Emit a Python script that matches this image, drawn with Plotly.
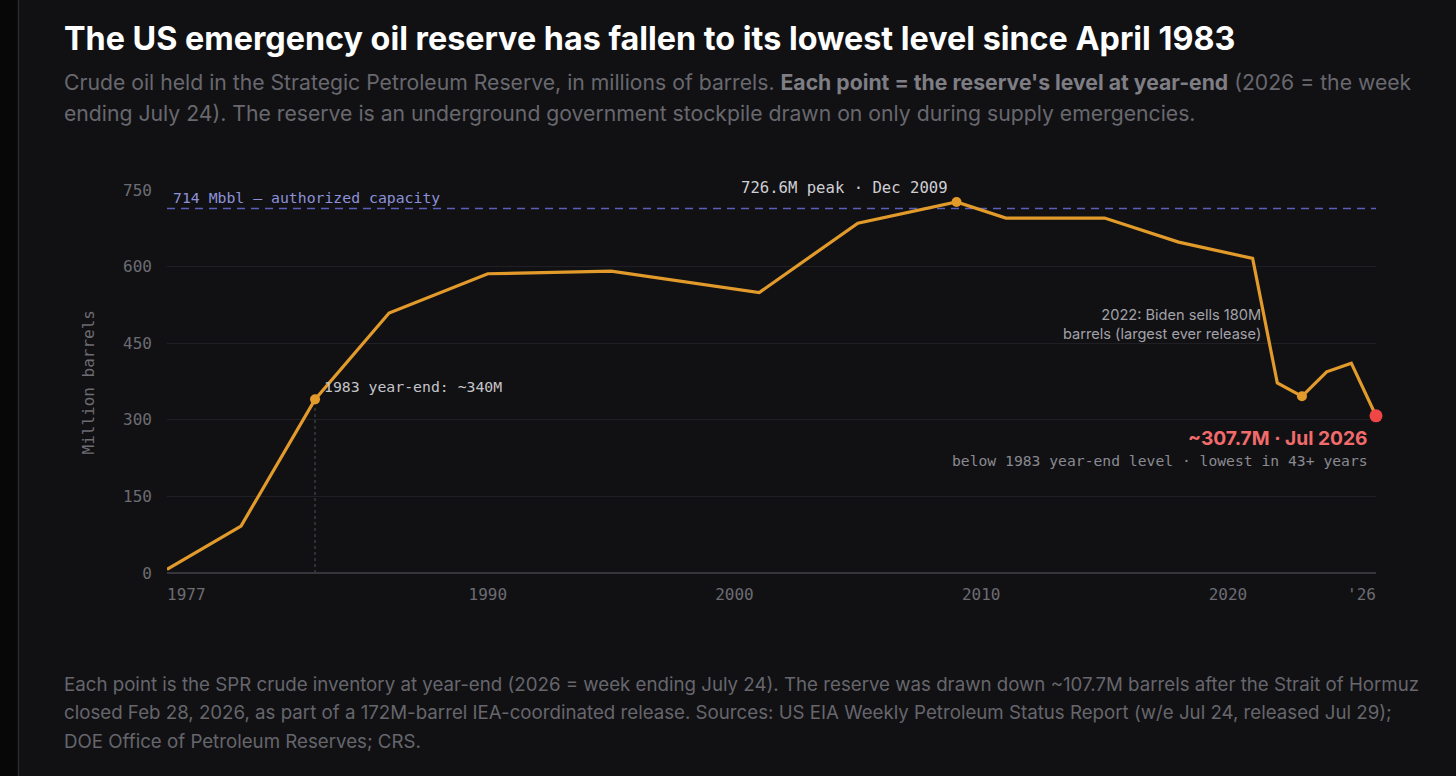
import plotly.graph_objects as go

bg = '#111114'
orange = '#e29b2b'
red = '#ef4646'
mono = 'DejaVu Sans Mono'
sans = 'Inter'

# year-end SPR level, million barrels (2026 = week ending Jul 24)
years = [1977, 1980, 1983, 1986, 1990, 1995, 2001, 2005, 2009, 2011, 2015, 2018, 2021, 2022, 2023, 2024, 2025, 2026]
barrels = [7, 92, 340, 509, 586, 591, 549, 685, 726.6, 695, 695, 648, 616, 372, 346, 394, 411, 307.7]
marked_years = [1983, 2009, 2023]
capacity = 714

y_ticks = [0, 150, 300, 450, 600, 750]
x_ticks = [1990, 2000, 2010, 2020]
x_edge_ticks = [1977, 2026]
x_edge_labels = ['1977', "'26"]

# plot area in pixels, used to place page-level text
L, R, T, B = 167, 1376, 190, 573
def px(x):
    return (x - L) / (R - L)
def py(y):
    return (B - y) / (B - T)

fig = go.Figure()

fig.add_trace(go.Scatter(x=years, y=barrels, mode='lines',
                         line=dict(color=orange, width=3.2), hoverinfo='skip'))
mark_vals = [barrels[years.index(y)] for y in marked_years]
fig.add_trace(go.Scatter(x=marked_years, y=mark_vals, mode='markers',
                         marker=dict(color=orange, size=10), hoverinfo='skip'))
fig.add_trace(go.Scatter(x=[years[-1]], y=[barrels[-1]], mode='markers',
                         marker=dict(color=red, size=13), hoverinfo='skip', cliponaxis=False))

# capacity line + 1983 drop line
fig.add_shape(type='line', x0=years[0], x1=years[-1], y0=capacity, y1=capacity,
              line=dict(color='#5a60b8', width=1.5, dash='8px,6px'), layer='below')
fig.add_shape(type='line', x0=1983, x1=1983, y0=0, y1=barrels[years.index(1983)],
              line=dict(color='#505056', width=1, dash='3px,3px'), layer='below')

# left strip of the page
fig.add_shape(type='rect', xref='paper', yref='paper', x0=px(0), x1=px(18), y0=py(776), y1=py(0),
              fillcolor='#070708', line=dict(width=0), layer='below')
fig.add_shape(type='line', xref='paper', yref='paper', x0=px(18.5), x1=px(18.5), y0=py(776), y1=py(0),
              line=dict(color='#2a2a2e', width=1.5), layer='below')

ann = []
def note(text, x, y, size, color, family=mono, xanchor='left', **kw):
    ann.append(dict(text=text, x=x, y=y, showarrow=False, xanchor=xanchor, yanchor='middle',
                    font=dict(family=family, size=size, color=color), **kw))

# page texts
note('<b>The US emergency oil reserve has fallen to its lowest level since April 1983</b>',
     px(62), py(38), 32.3, '#ffffff', family=sans, xref='paper', yref='paper')
note("Crude oil held in the Strategic Petroleum Reserve, in millions of barrels. "
     "<b><span style='color:#7e7e84'>Each point = the reserve's level at year-end</span></b> (2026 = the week",
     px(62), py(82), 21.2, '#68686e', family=sans, xref='paper', yref='paper')
note('ending July 24). The reserve is an underground government stockpile drawn on only during supply emergencies.',
     px(62), py(113), 21.2, '#68686e', family=sans, xref='paper', yref='paper')
footer = ['Each point is the SPR crude inventory at year-end (2026 = week ending July 24). The reserve was drawn down ~107.7M barrels after the Strait of Hormuz',
          'closed Feb 28, 2026, as part of a 172M-barrel IEA-coordinated release. Sources: US EIA Weekly Petroleum Status Report (w/e Jul 24, released Jul 29);',
          'DOE Office of Petroleum Reserves; CRS.']
for i, line in enumerate(footer):
    note(line, px(62), py(684 + 28.5 * i), 18.7, '#66666c', family=sans, xref='paper', yref='paper')

note('Million barrels', px(88), py(381.5), 16, '#6c6c72', xref='paper', yref='paper',
     textangle=-90, xanchor='center')

# edge tick labels, aligned to the plot edges
note(x_edge_labels[0], x_edge_ticks[0], 0, 16, '#6c6c72', yshift=-21, xshift=-2)
note(x_edge_labels[1], x_edge_ticks[1], 0, 16, '#6c6c72', xanchor='right', yshift=-21, xshift=2)

# chart annotations
note('714 Mbbl — authorized capacity', years[0], capacity, 14.8, '#8d92d8', xshift=4, yshift=11)
note('726.6M peak · Dec 2009', 2009, 726.6, 15.6, '#cfcfd3', xanchor='right', xshift=-7, yshift=14)
note('1983 year-end: ~340M', 1983, 340, 14.8, '#c4c4c8', xshift=7, yshift=13)
note('2022: Biden sells 180M<br>barrels (largest ever release)', 2021, 487, 14.6, '#a2a2a8',
     family=sans, xanchor='right', xshift=10, align='right')
note('<b>~307.7M · Jul 2026</b>', 2026, barrels[-1], 19.2, '#f26b6b', family=sans,
     xanchor='right', xshift=-6, yshift=-22)
note('below 1983 year-end level · lowest in 43+ years', 2026, barrels[-1], 14.7, '#8a8a90',
     xanchor='right', xshift=-6, yshift=-45)

fig.update_layout(
    width=1456, height=776,
    margin=dict(l=L, r=1456 - R, t=T, b=776 - B),
    paper_bgcolor=bg, plot_bgcolor=bg,
    showlegend=False,
    annotations=ann,
    xaxis=dict(range=[years[0], years[-1]], tickvals=x_ticks, ticktext=[str(v) for v in x_ticks],
               showgrid=False, zeroline=False, showline=False, ticks='',
               tickfont=dict(family=mono, size=16, color='#6c6c72'), ticklabelstandoff=10,
               fixedrange=True),
    yaxis=dict(range=[0, 750], tickvals=y_ticks, showgrid=True, gridcolor='#1f1f25', gridwidth=1,
               zeroline=True, zerolinecolor='#35353b', zerolinewidth=1.5, showline=False, ticks='',
               tickfont=dict(family=mono, size=16, color='#6c6c72'), ticklabelstandoff=14,
               fixedrange=True),
)

fig.write_html("out.html", config={'displayModeBar': False},
               post_script="document.body.style.margin='0';document.body.style.background='#111114';")
